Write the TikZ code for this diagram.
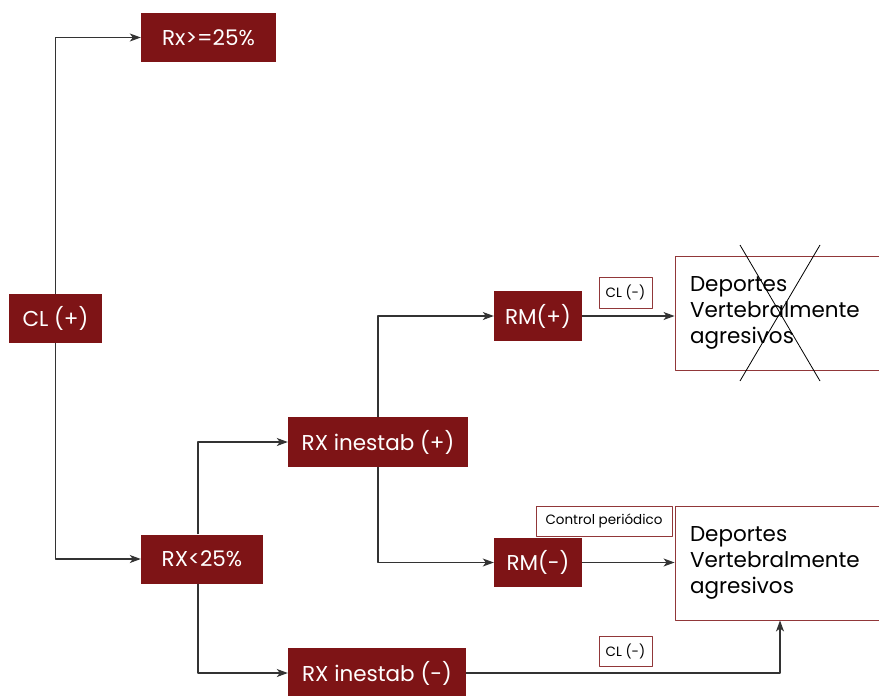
\documentclass[tikz,border=0pt]{standalone}
\usepackage{fontspec}
\setmainfont{Poppins}
\usetikzlibrary{arrows.meta}
\definecolor{vino}{HTML}{7E1416}
\tikzset{
  caja/.style={fill=vino, text=white, inner sep=0pt, font=\fontsize{21.5}{23}\selectfont},
  marco/.style={draw=vino!85, line width=0.9pt, fill=white, inner sep=0pt},
  nota/.style={marco, font=\fontsize{13.5}{15}\selectfont},
  flecha/.style={-{Stealth[length=11pt,width=8pt,inset=3pt]}, line width=1.1pt, draw=black!80},
}
\begin{document}
\begin{tikzpicture}[x=1pt, y=-1pt, line join=round]
	\useasboundingbox (0,0) rectangle (879,696);
	% cajas oscuras
	\node[caja, minimum width=135pt, minimum height=49pt] (rxmayor) at (208.5,37.5) {Rx>=25\%};
	\node[caja, minimum width=93pt, minimum height=49pt] (clpos) at (55.5,318.5) {CL (+)};
	\node[caja, minimum width=122pt, minimum height=49pt] (rxmenor) at (202,559) {RX<25\%};
	\node[caja, minimum width=180pt, minimum height=50pt] (inestpos) at (378,442) {RX inestab (+)};
	\node[caja, minimum width=178pt, minimum height=50pt] (inestneg) at (377,673) {RX inestab (-)};
	\node[caja, minimum width=88pt, minimum height=50pt] (rmpos) at (538,316) {RM(+)};
	\node[caja, minimum width=88pt, minimum height=49pt] (rmneg) at (538,562.5) {RM(-)};
	% cajas claras
	\node[marco, minimum width=207pt, minimum height=114pt, text width=177pt, align=left, font=\fontsize{21.5}{26}\selectfont] (deptop) at (778.5,313) {Deportes\\Vertebralmente\\agresivos};
	\node[marco, minimum width=207pt, minimum height=114pt, text width=177pt, align=left, font=\fontsize{21.5}{26}\selectfont] (depbot) at (778.5,563) {Deportes\\Vertebralmente\\agresivos};
	\node[nota, minimum width=53pt, minimum height=31pt] (cltop) at (625.5,292.5) {CL (-)};
	\node[nota, minimum width=136pt, minimum height=30pt] (control) at (604,521) {Control periódico};
	\node[nota, minimum width=53pt, minimum height=30pt] (clbot) at (625.5,651) {CL (-)};
	% tachado
	\draw[line width=0.8pt] (740,245)--(820,381) (820,245)--(740,381);
	% flechas
	\draw[flecha] (clpos.north) |- (rxmayor.west);
	\draw[flecha] (clpos.south) |- (rxmenor.west);
	\draw[flecha] ([xshift=-4pt]rxmenor.north) |- (inestpos.west);
	\draw[flecha] ([xshift=-4pt]rxmenor.south) |- (inestneg.west);
	\draw[flecha] (inestpos.north) |- (rmpos.west);
	\draw[flecha] (inestpos.south) |- (rmneg.west);
	\draw[flecha] (rmpos.east) -- (rmpos.east -| deptop.west);
	\draw[flecha] (rmneg.east) -- (rmneg.east -| depbot.west);
	\draw[flecha] (inestneg.east) -| ([xshift=1.5pt]depbot.south);
\end{tikzpicture}
\end{document}
